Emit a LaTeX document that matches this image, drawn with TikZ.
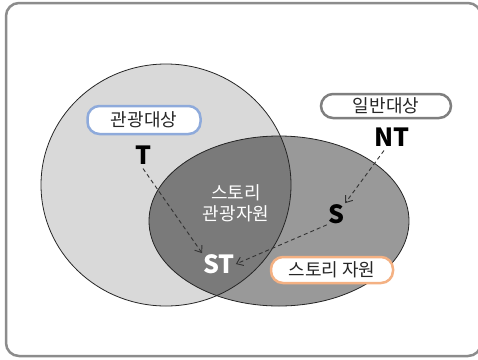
\documentclass[tikz,border=0pt]{standalone}
\usepackage{fontspec}
\setmainfont{Noto Sans CJK KR}
\newfontfamily\krfont{Noto Sans CJK KR}
\usetikzlibrary{arrows.meta}
\definecolor{lightc}{HTML}{D9D9D9}
\definecolor{midc}{HTML}{999999}
\definecolor{darkc}{HTML}{7A7A7A}
\definecolor{bluec}{HTML}{8EAADB}
\definecolor{orangec}{HTML}{F4B183}
\definecolor{grayc}{HTML}{7F7F7F}
\definecolor{framec}{HTML}{8C8C8C}
\tikzset{
  tag/.style={draw, line width=2.5pt, rounded corners=12pt, fill=white, inner sep=0pt, font=\krfont\fontsize{18}{18}\selectfont, text=black!85},
  letter/.style={font=\krfont\bfseries\fontsize{25}{25}\selectfont, inner sep=1pt},
  inner/.style={font=\krfont\fontsize{18}{21}\selectfont, text=white, align=center},
  dasharrow/.style={dash pattern=on 4pt off 3pt, line width=0.9pt, draw=black!80, -{Straight Barb[length=6pt,width=9pt]}},
}
\begin{document}
\begin{tikzpicture}[x=1pt,y=-1pt]
\useasboundingbox (0,0) rectangle (478,359);
\fill[white] (0,0) rectangle (478,359);
\draw[framec, line width=2.5pt, rounded corners=13pt] (6,3) rectangle (481,356);
% shapes
\fill[lightc] (166,185) ellipse [x radius=125, y radius=121];
\fill[midc] (279,221) ellipse [x radius=130, y radius=85];
\begin{scope}
  \clip (166,185) ellipse [x radius=125, y radius=121];
  \fill[darkc] (279,221) ellipse [x radius=130, y radius=85];
\end{scope}
\draw[black!85, line width=0.8pt] (166,185) ellipse [x radius=125, y radius=121];
\draw[black!85, line width=0.8pt] (279,221) ellipse [x radius=130, y radius=85];
% tags
\node[tag, draw=bluec, minimum width=113pt, minimum height=28pt] (tagT) at (144,120) {관광대상};
\node[tag, draw=grayc, minimum width=130pt, minimum height=24pt] (tagNT) at (386,106) {일반대상};
\node[tag, draw=orangec, minimum width=122pt, minimum height=26pt] (tagS) at (332,270) {스토리 자원};
% letters
\node[letter] (T) at (143,155) {T};
\node[letter] (NT) at (392,137) {NT};
\node[letter] (S) at (336,214) {S};
\node[letter, text=white] (ST) at (219,264) {ST};
\node[inner] (in) at (236,203) {스토리\\관광자원};
% arrows
\draw[dasharrow] (T.south) ++(0,3) -- (ST.north west);
\draw[dasharrow] (NT.south) ++(-8,3) coordinate (ntstart) -- (S.north east);
\draw[dasharrow] (S.south west) -- (ST.east);
\end{tikzpicture}
\end{document}
